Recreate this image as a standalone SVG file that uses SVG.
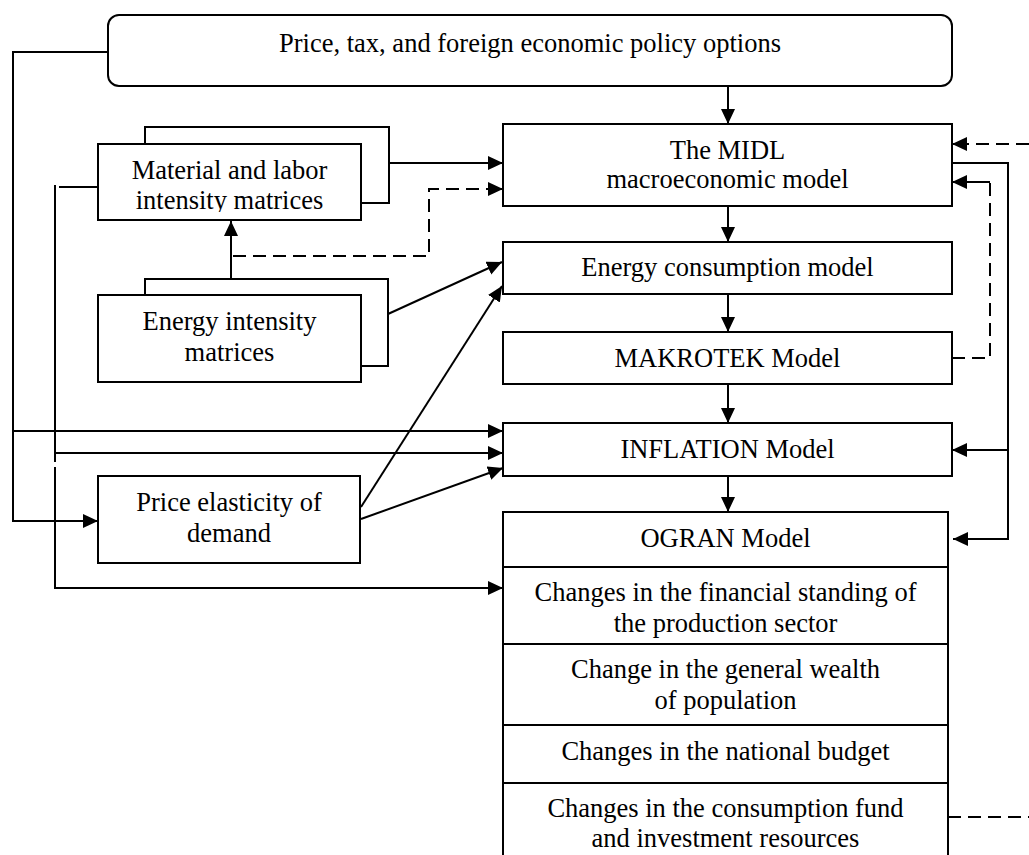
<svg xmlns="http://www.w3.org/2000/svg" width="1029" height="855" viewBox="0 0 1029 855">
<style>
.box{fill:#fff;stroke:#000;stroke-width:2}
.edge{fill:none;stroke:#000;stroke-width:2}
.ln{fill:none;stroke:#000;stroke-width:2}
.dash{fill:none;stroke:#000;stroke-width:2;stroke-dasharray:13 7}
text{font-family:"Liberation Serif","Times New Roman",serif;font-size:26.5px;fill:#000;text-anchor:middle}
</style>
<defs>
<marker id="ah" markerUnits="userSpaceOnUse" markerWidth="16" markerHeight="15" refX="15" refY="7" orient="auto">
<path d="M0,0 L15,7 L0,14 z" fill="#000"/>
</marker>
<clipPath id="clipMat"><rect x="98" y="144" width="263" height="68"/></clipPath>
</defs>
<rect width="1029" height="855" fill="#fff"/>

<g id="policy">
<rect class="box" x="108" y="15" width="844" height="71" rx="11"/>
<text x="530" y="52">Price, tax, and foreign economic policy options</text>
</g>

<g id="material">
<path class="edge" d="M145,144 V127 H389 V203 H361"/>
<rect class="box" x="98" y="144" width="263" height="76"/>
<g clip-path="url(#clipMat)">
<text x="229.5" y="179">Material and labor</text>
<text x="229.5" y="209">intensity matrices</text>
</g>
</g>

<g id="energy-intensity">
<path class="edge" d="M145,295 V279 H388 V366 H361"/>
<rect class="box" x="98" y="295" width="263" height="87"/>
<text x="229.5" y="330">Energy intensity</text>
<text x="229.5" y="361">matrices</text>
</g>

<g id="price-elasticity">
<rect class="box" x="98" y="476" width="262" height="87"/>
<text x="229" y="511">Price elasticity of</text>
<text x="229" y="542">demand</text>
</g>

<g id="midl">
<rect class="box" x="503" y="124" width="449" height="82"/>
<text x="727.5" y="159">The MIDL</text>
<text x="727.5" y="188">macroeconomic model</text>
</g>

<g id="energy-consumption">
<rect class="box" x="503" y="242" width="449" height="52"/>
<text x="727.5" y="276">Energy consumption model</text>
</g>

<g id="makrotek">
<rect class="box" x="503" y="332" width="449" height="52"/>
<text x="727.5" y="367">MAKROTEK Model</text>
</g>

<g id="inflation">
<rect class="box" x="503" y="423" width="449" height="53"/>
<text x="727.5" y="458">INFLATION Model</text>
</g>

<g id="ogran">
<rect class="box" x="503" y="512" width="445" height="350"/>
<path class="edge" d="M503,567 H948 M503,644 H948 M503,725 H948 M503,783 H948"/>
<text x="725.5" y="547">OGRAN Model</text>
<text x="725.5" y="601">Changes in the financial standing of</text>
<text x="725.5" y="632">the production sector</text>
<text x="725.5" y="678">Change in the general wealth</text>
<text x="725.5" y="709">of population</text>
<text x="725.5" y="760">Changes in the national budget</text>
<text x="725.5" y="817">Changes in the consumption fund</text>
<text x="725.5" y="847">and investment resources</text>
</g>

<g id="connectors">
<!-- vertical chain -->
<line class="ln" x1="728" y1="86" x2="728" y2="124" marker-end="url(#ah)"/>
<line class="ln" x1="728" y1="206" x2="728" y2="242" marker-end="url(#ah)"/>
<line class="ln" x1="728" y1="294" x2="728" y2="332" marker-end="url(#ah)"/>
<line class="ln" x1="728" y1="384" x2="728" y2="423" marker-end="url(#ah)"/>
<line class="ln" x1="728" y1="476" x2="728" y2="512" marker-end="url(#ah)"/>

<!-- left: policy feed -->
<path class="ln" d="M108,52 H13 V521 H98" marker-end="url(#ah)"/>
<line class="ln" x1="13" y1="431" x2="503" y2="431" marker-end="url(#ah)"/>

<!-- left: material feed -->
<line class="ln" x1="59" y1="187" x2="98" y2="187"/>
<line class="ln" x1="55" y1="185" x2="55" y2="462"/>
<path class="ln" d="M55,467 V588 H503" marker-end="url(#ah)"/>
<line class="ln" x1="55" y1="453" x2="503" y2="453" marker-end="url(#ah)"/>

<!-- material to MIDL -->
<line class="ln" x1="389" y1="163" x2="503" y2="163" marker-end="url(#ah)"/>
<!-- energy intensity to material -->
<line class="ln" x1="231" y1="279" x2="231" y2="221" marker-end="url(#ah)"/>
<!-- dashed from energy intensity to MIDL -->
<path class="dash" d="M233,256 H429 V189 H487"/>
<line class="ln" x1="487" y1="189" x2="503" y2="189" marker-end="url(#ah)"/>

<!-- diagonals -->
<line class="ln" x1="388" y1="314" x2="502" y2="262" marker-end="url(#ah)"/>
<line class="ln" x1="361" y1="507" x2="502" y2="286" marker-end="url(#ah)"/>
<line class="ln" x1="361" y1="519" x2="503" y2="468" marker-end="url(#ah)"/>

<!-- right side -->
<path class="dash" d="M1029,144 H968"/>
<line class="ln" x1="968" y1="144" x2="952" y2="144" marker-end="url(#ah)"/>
<path class="ln" d="M952,163 H1008 V539 H953" marker-end="url(#ah)"/>
<line class="ln" x1="1008" y1="450" x2="952" y2="450" marker-end="url(#ah)"/>
<path class="dash" d="M952,358 H990 V182"/>
<path class="ln" d="M990,182 H952" marker-end="url(#ah)"/>
<path class="dash" d="M948,817 H1029"/>
</g>
</svg>
